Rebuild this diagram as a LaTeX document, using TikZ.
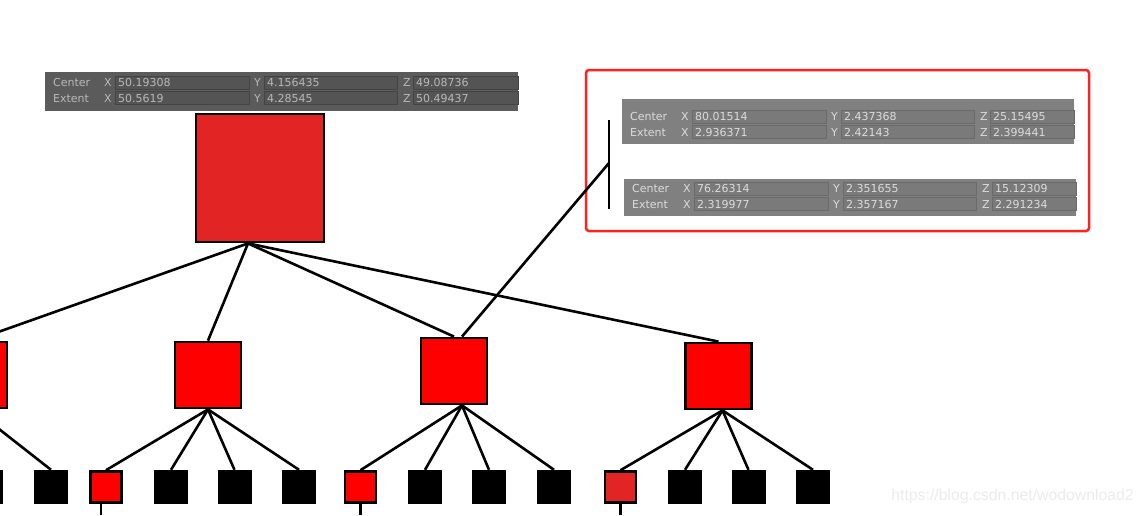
\documentclass[tikz,border=0pt]{standalone}
\usepackage{fontspec}
\setsansfont{DejaVu Sans}
\newfontfamily\markfont{Liberation Sans}
\usetikzlibrary{positioning}

\definecolor{boxred}{HTML}{E32424}
\definecolor{hotred}{HTML}{FF0000}
\definecolor{framered}{HTML}{FF2020}
\definecolor{darkbg}{HTML}{5B5B5B}
\definecolor{darkfield}{HTML}{545454}
\definecolor{darkline}{HTML}{444444}
\definecolor{darktext}{HTML}{B8B8B8}
\definecolor{lightbg}{HTML}{808080}
\definecolor{lightfield}{HTML}{7A7A7A}
\definecolor{lightline}{HTML}{6A6A6A}
\definecolor{lighttext}{HTML}{DCDCDC}

% #1 name, #2 look, #3 corner, #4 width, #5 height, #6 first row, #7 rows
\newcommand\infopanel[7]{%
  \begin{scope}[shift={#3}, #2]
    \fill[every panel] (0,0) rectangle (#4,#5);
    \foreach \lab/\vx/\vy/\vz [count=\i] in {#7} {
      \pgfmathsetmacro\yc{#6+(\i-1)*15.5}
      \draw[every field] (70,\yc-6.5) rectangle (204,\yc+6.5);
      \draw[every field] (219,\yc-6.5) rectangle (352,\yc+6.5);
      \draw[every field] (368,\yc-6.5) rectangle (#4,\yc+6.5);
      \node[info, anchor=west] (#1-lab-\i) at (8,\yc) {\lab};
      \node[info, anchor=west] (#1-ax-\i) at (59,\yc) {X};
      \node[info, anchor=west] (#1-vx-\i) at (73,\yc) {\vx};
      \node[info, anchor=west] (#1-ay-\i) at (209,\yc) {Y};
      \node[info, anchor=west] (#1-vy-\i) at (222,\yc) {\vy};
      \node[info, anchor=west] (#1-az-\i) at (358,\yc) {Z};
      \node[info, anchor=west] (#1-vz-\i) at (371,\yc) {\vz};
    }
  \end{scope}}

\begin{document}
\begin{tikzpicture} [
	x = 1pt, y = -1pt,
	link/.style = {line width=2.6pt, black},
	box/.style = {draw=black, line width=2.8pt, inner sep=0pt, minimum size=66pt, fill=hotred},
	rootbox/.style = {box, minimum size=128pt, fill=boxred},
	leaf/.style = {fill=black, inner sep=0pt, minimum size=34pt},
	hit/.style = {draw=black, line width=2.6pt, inner sep=0pt, minimum size=31pt, fill=hotred},
	hitdark/.style = {hit, fill=boxred},
	frame/.style = {draw=framered, line width=2.5pt, rounded corners=3pt, inner sep=0pt},
	info/.style = {font=\sffamily\fontsize{11}{12}\selectfont, inner sep=0pt, text height=8pt, text depth=0pt},
	darklook/.style = {every panel/.style={fill=darkbg}, every field/.style={fill=darkfield, draw=darkline, line width=0.8pt}, info/.append style={text=darktext}},
	lightlook/.style = {every panel/.style={fill=lightbg}, every field/.style={fill=lightfield, draw=lightline, line width=0.8pt}, info/.append style={text=lighttext}},
	watermark/.style = {font=\markfont\fontsize{15.8}{18}\selectfont, text=black!8, inner sep=0pt}
]
\useasboundingbox (0,0) rectangle (1144,515);
\clip (0,0) rectangle (1144,515);

% bounds readouts
\infopanel{whole}{darklook}{(45,72)}{473}{39}{10.5}{Center/50.19308/4.156435/49.08736, Extent/50.5619/4.28545/50.49437}
\infopanel{upper}{lightlook}{(622,99)}{452}{45}{17.5}{Center/80.01514/2.437368/25.15495, Extent/2.936371/2.42143/2.399441}
\infopanel{lower}{lightlook}{(624,179)}{452}{37}{9.5}{Center/76.26314/2.351655/15.12309, Extent/2.319977/2.357167/2.291234}
\node[frame, minimum width=503pt, minimum height=161pt] (pick) at (837.5,150.5) {};

% tree
\node [rootbox] (tree) at (260,178) {};
\node [box] (q1) at (-26,375) {};
\node [box] (q2) at (208,375) {};
\node [box] (q3) at (454,371) {};
\node [box] (q4) at (718.5,376) {};
\foreach \name/\x/\kind in {c0/-14/leaf, c1/51/leaf, c2/106/hit, c3/171/leaf, c4/234.5/leaf,
		c5/299/leaf, c6/360.5/hit, c7/425/leaf, c8/489/leaf, c9/554/leaf, c10/620.5/hitdark,
		c11/685/leaf, c12/748.5/leaf, c13/813/leaf}
	\node [\kind] (\name) at (\x,487) {};

\coordinate (tree-hub) at ([xshift=-12pt]tree.south);
\coordinate (q1-hub) at (q1.south);
\coordinate (q2-hub) at (q2.south);
\coordinate (q3-hub) at ([xshift=8pt]q3.south);
\coordinate (q4-hub) at ([xshift=4pt]q4.south);
\coordinate (floor) at (0,515);

\foreach \c in {q1,q2,q3,q4}
	\draw [link] (tree-hub) -- (\c.north);
\foreach \p/\c in {q1/c0, q1/c1, q2/c2, q2/c3, q2/c4, q2/c5, q3/c6, q3/c7, q3/c8, q3/c9,
		q4/c10, q4/c11, q4/c12, q4/c13}
	\draw [link] (\p-hub) -- (\c.north);
\foreach \c/\s in {c2/-5, c6/0, c10/0}
	\draw [link] ([xshift=\s pt]\c.south) -- ([xshift=\s pt]\c.south |- floor);

% pointer to the picked pair
\coordinate (bar-top) at (609,120);
\coordinate (bar-joint) at (609,163);
\coordinate (bar-bottom) at (609,209);
\draw [link] (bar-top) -- (bar-bottom);
\draw [link] ([xshift=8pt]q3.north) -- (bar-joint);

\node [watermark, anchor=east] (mark) at (1134,496) {https://blog.csdn.net/wodownload2};
\end{tikzpicture}
\end{document}
